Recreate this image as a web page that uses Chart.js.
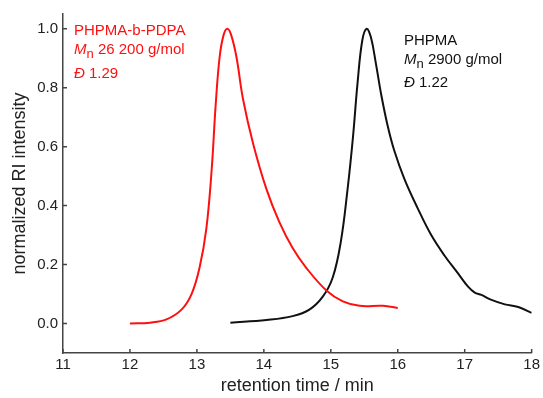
<!DOCTYPE html>
<html>
<head>
<meta charset="utf-8">
<script src="https://cdn.jsdelivr.net/npm/chart.js@4"></script>
<style>
  html, body { margin: 0; padding: 0; background: #fff; }
  #wrap { width: 543px; height: 398px; }
</style>
</head>
<body>
<div id="wrap"><canvas id="myChart" width="543" height="398"></canvas></div>
<script>
// retention time (min) and normalized RI intensity
const RED_T = [12.0, 12.3, 12.545, 12.77, 12.92, 13.04, 13.14, 13.22, 13.28, 13.34, 13.40, 13.455,
  13.51, 13.59, 13.69, 13.84, 14.04, 14.23, 14.43, 14.63, 14.93, 15.18, 15.43, 15.78, 16.0];
const RED_Y = [0.0, 0.003, 0.014, 0.047, 0.10, 0.19, 0.32, 0.52, 0.74, 0.905, 0.98, 1.0,
  0.98, 0.905, 0.76, 0.61, 0.455, 0.345, 0.256, 0.19, 0.113, 0.075, 0.06, 0.06, 0.053];

const BLACK_T = [13.5, 14.04, 14.43, 14.68, 14.88, 15.03, 15.15, 15.25, 15.33, 15.40, 15.47, 15.535,
  15.60, 15.675, 15.75, 15.85, 15.95, 16.1, 16.3, 16.5, 16.7, 16.9, 17.05, 17.15, 17.25, 17.4,
  17.6, 17.8, 18.0];
const BLACK_Y = [0.003, 0.012, 0.025, 0.047, 0.091, 0.157, 0.278, 0.455, 0.63, 0.817, 0.96, 1.0,
  0.97, 0.88, 0.78, 0.67, 0.585, 0.49, 0.39, 0.30, 0.23, 0.17, 0.125, 0.105, 0.097, 0.08,
  0.065, 0.056, 0.036];

const X_TICKS = [11, 12, 13, 14, 15, 16, 17, 18];
const Y_TICKS = [0.0, 0.2, 0.4, 0.6, 0.8, 1.0];

const RED_LABEL = ['PHPMA-b-PDPA', '26 200 g/mol', '1.29'];
const BLACK_LABEL = ['PHPMA', '2900 g/mol', '1.22'];

const RED = 'rgb(255, 16, 16)';
const BLACK = '#111';
const AXIS = '#444';
const FONT = "'Liberation Sans', Arial, sans-serif";

function toPoints(xs, ys) {
  return xs.map((x, i) => ({ x: x, y: ys[i] }));
}

// ticks in this figure point into the plot
const innerTicks = {
  id: 'innerTicks',
  afterDraw(chart) {
    const ctx = chart.ctx;
    const x = chart.scales.x;
    const y = chart.scales.y;
    ctx.save();
    ctx.strokeStyle = AXIS;
    ctx.lineWidth = 1.5;
    ctx.beginPath();
    X_TICKS.forEach((v) => {
      const px = x.getPixelForValue(v);
      ctx.moveTo(px, chart.chartArea.bottom);
      ctx.lineTo(px, chart.chartArea.bottom - 4);
    });
    Y_TICKS.forEach((v) => {
      const py = y.getPixelForValue(v);
      ctx.moveTo(chart.chartArea.left, py);
      ctx.lineTo(chart.chartArea.left + 4, py);
    });
    ctx.stroke();
    ctx.restore();
  },
};

function drawLabel(ctx, lines, color, left, baselines) {
  ctx.fillStyle = color;
  ctx.textBaseline = 'alphabetic';
  ctx.textAlign = 'left';

  ctx.font = '15px ' + FONT;
  ctx.fillText(lines[0], left, baselines[0]);

  let cx = left;
  ctx.font = 'italic 15px ' + FONT;
  ctx.fillText('M', cx, baselines[1]);
  cx += ctx.measureText('M').width;
  ctx.font = '13px ' + FONT;
  ctx.fillText('n', cx, baselines[1] + 4);
  cx += ctx.measureText('n').width;
  ctx.font = '15px ' + FONT;
  ctx.fillText(' ' + lines[1], cx, baselines[1]);

  cx = left;
  ctx.font = 'italic 15px ' + FONT;
  ctx.fillText('Đ', cx, baselines[2]);
  cx += ctx.measureText('Đ').width;
  ctx.font = '15px ' + FONT;
  ctx.fillText(' ' + lines[2], cx, baselines[2]);
}

const annotations = {
  id: 'annotations',
  afterDraw(chart) {
    const ctx = chart.ctx;
    ctx.save();
    drawLabel(ctx, RED_LABEL, RED, 74, [35, 54, 78]);
    drawLabel(ctx, BLACK_LABEL, BLACK, 404, [45, 64, 87]);
    ctx.restore();
  },
};

const CHART = document.getElementById('myChart').getContext('2d');

let gpcChart = new Chart(CHART, {
  type: 'line',
  data: {
    datasets: [
      {
        label: 'PHPMA-b-PDPA',
        data: toPoints(RED_T, RED_Y),
        borderColor: RED,
        borderWidth: 2,
        pointRadius: 0,
        tension: 0.4,
        fill: false,
      },
      {
        label: 'PHPMA',
        data: toPoints(BLACK_T, BLACK_Y),
        borderColor: BLACK,
        borderWidth: 2,
        pointRadius: 0,
        tension: 0.4,
        fill: false,
      },
    ],
  },
  options: {
    responsive: false,
    animation: false,
    layout: { padding: { top: 6, right: 10, left: 0, bottom: 0 } },
    plugins: {
      legend: { display: false },
      tooltip: { enabled: false },
    },
    scales: {
      x: {
        type: 'linear',
        min: 11,
        max: 18,
        grid: { display: false, drawTicks: false },
        border: { color: AXIS, width: 1.5 },
        afterBuildTicks: (scale) => {
          scale.ticks = X_TICKS.map((v) => ({ value: v }));
        },
        afterFit: (scale) => {
          scale.height = 45;
        },
        ticks: {
          color: '#222',
          padding: 3,
          maxRotation: 0,
          font: { family: FONT, size: 15 },
          callback: (v) => String(v),
        },
        title: {
          display: true,
          text: 'retention time / min',
          color: '#222',
          font: { family: FONT, size: 18 },
          padding: { top: 0, bottom: 1 },
        },
      },
      y: {
        min: -0.1,
        max: 1.05,
        grid: { display: false, drawTicks: false },
        border: { color: AXIS, width: 1.5 },
        afterBuildTicks: (scale) => {
          scale.ticks = Y_TICKS.map((v) => ({ value: v }));
        },
        afterFit: (scale) => {
          scale.width = 63;
        },
        ticks: {
          color: '#222',
          padding: 5,
          font: { family: FONT, size: 15 },
          callback: (v) => v.toFixed(1),
        },
        title: {
          display: true,
          text: 'normalized RI intensity',
          color: '#222',
          font: { family: FONT, size: 18 },
          padding: { top: 9, bottom: 0 },
        },
      },
    },
  },
  plugins: [innerTicks, annotations],
});
</script>
</body>
</html>
